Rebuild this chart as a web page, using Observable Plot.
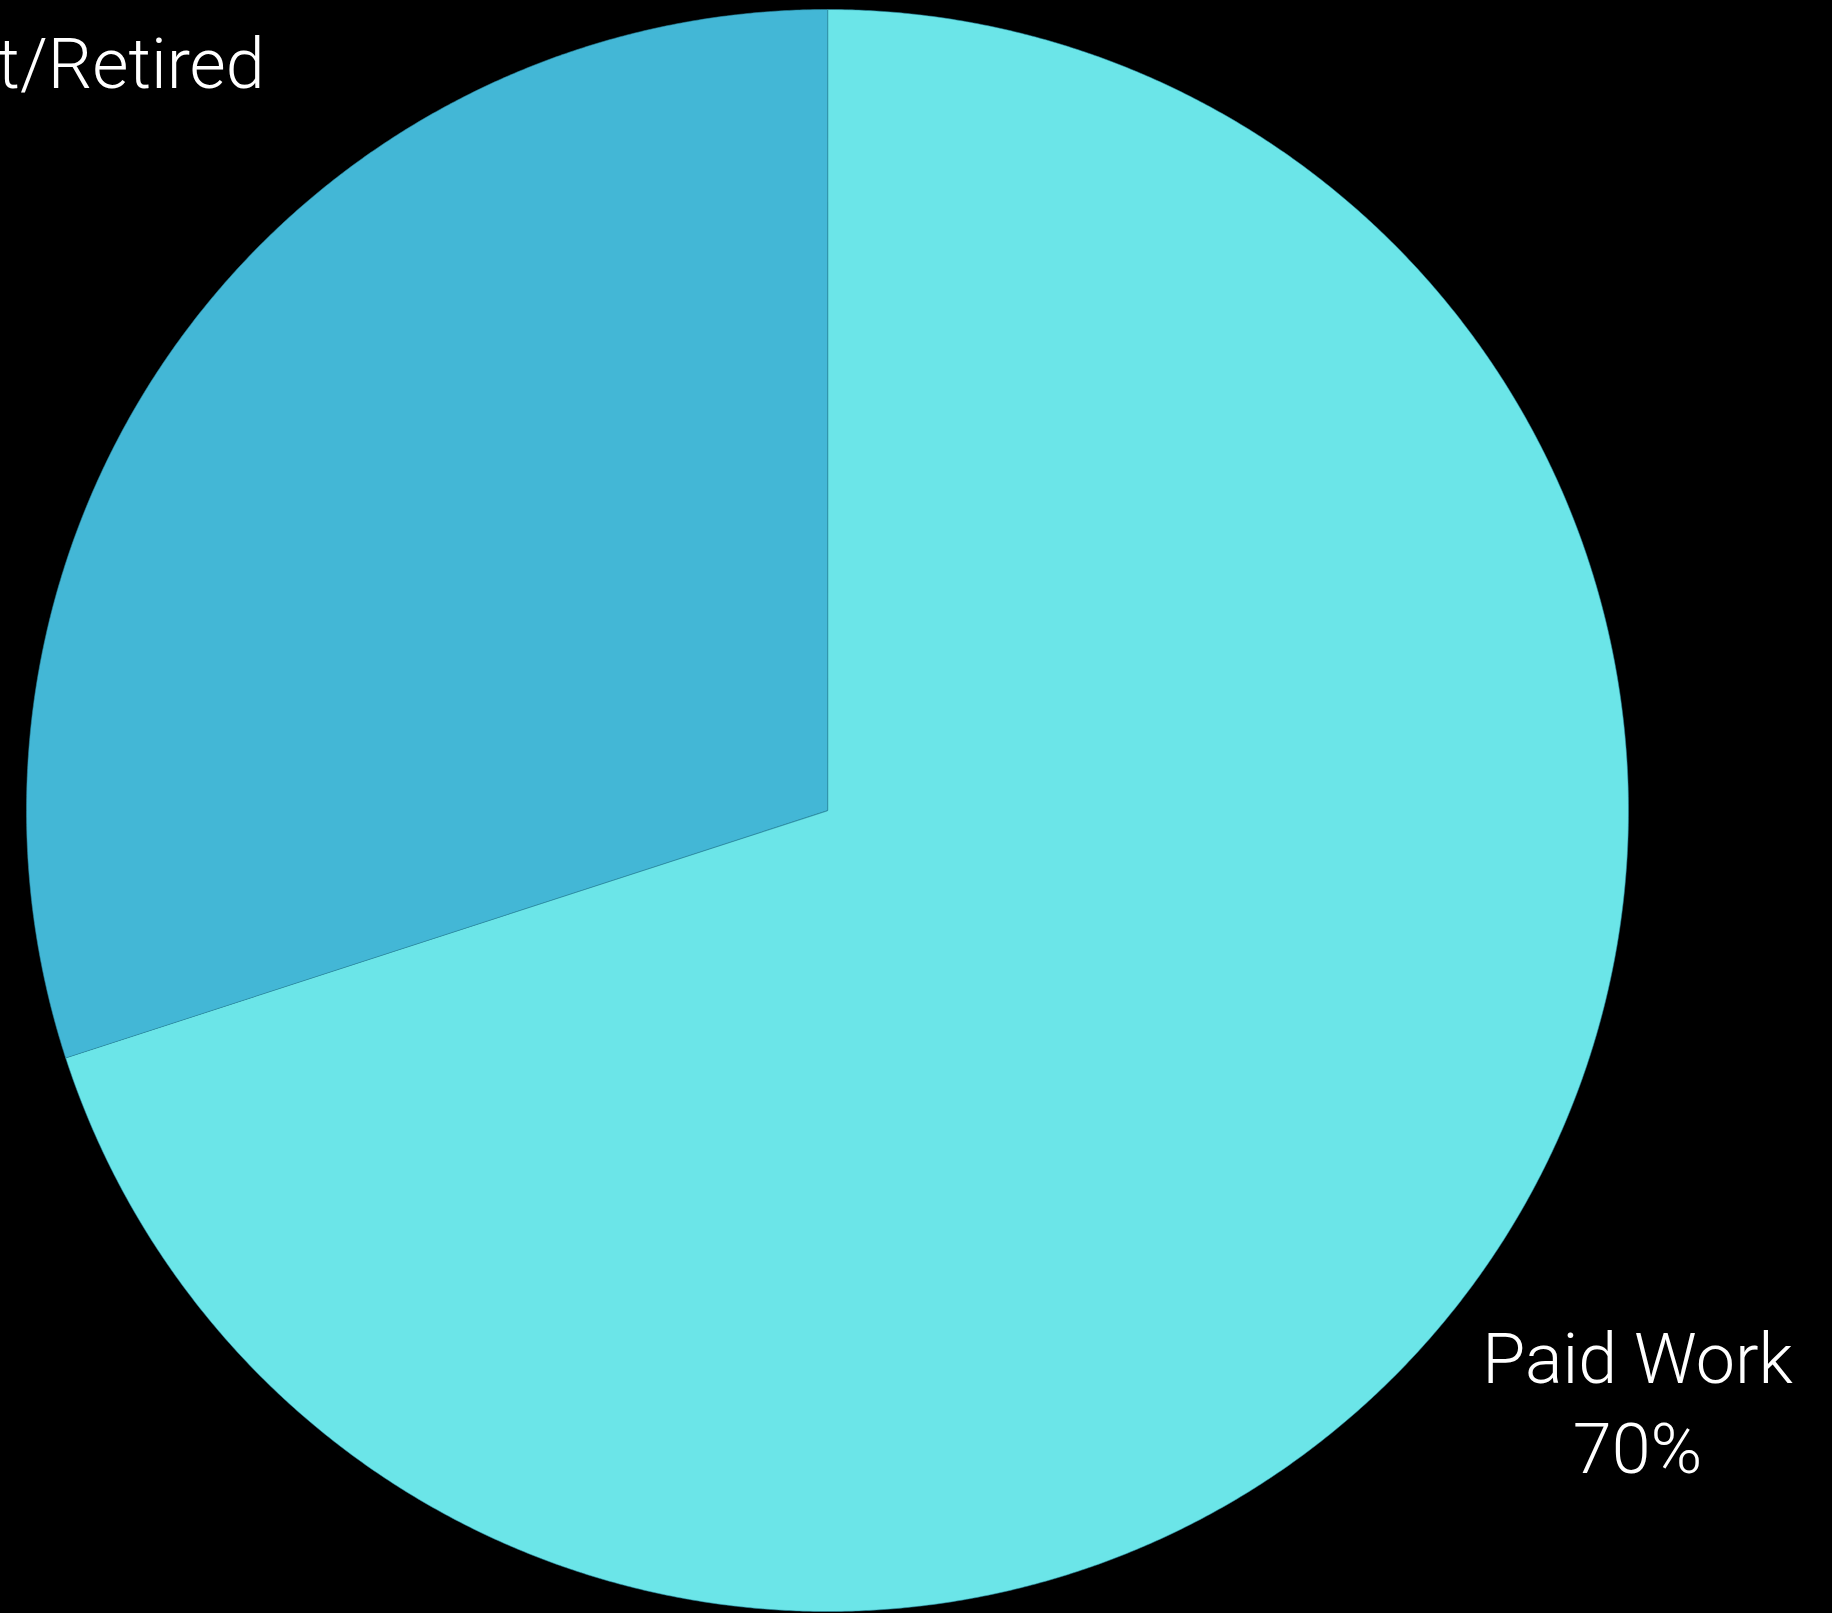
<!DOCTYPE html>
<html>
<head>
<meta charset="utf-8">
<script src="https://cdn.jsdelivr.net/npm/d3@7"></script>
<script src="https://cdn.jsdelivr.net/npm/@observablehq/plot@0.6"></script>
<style>
  html, body { margin: 0; padding: 0; background: #000; overflow: hidden; }
  #chart svg { display: block; background: #000; }
</style>
</head>
<body>
<div id="chart"></div>
<script>
// ---- data ----
const categories = ["Paid Work", "Unemployed/Student/Retired"];
const shares = [70, 30];
const colors = ["#6be5e8", "#43b7d6"];

// ---- layout ----
const W = 1832, H = 1613;
const CX = 827, CY = 810, R = 801;  // pie centre & radius in pixels

const total = d3.sum(shares);
let acc = 0;
const slices = categories.map((name, i) => {
  const a0 = acc / total * 2 * Math.PI;
  acc += shares[i];
  const a1 = acc / total * 2 * Math.PI;
  return {name, value: shares[i], color: colors[i], a0, a1, mid: (a0 + a1) / 2};
});

// polygon outline of each slice (angles clockwise from 12 o'clock, y up)
const outline = [];
for (const s of slices) {
  outline.push({name: s.name, x: 0, y: 0});
  const n = Math.max(2, Math.ceil((s.a1 - s.a0) / (Math.PI / 720)));
  for (let k = 0; k <= n; k++) {
    const a = s.a0 + (s.a1 - s.a0) * k / n;
    outline.push({name: s.name, x: Math.sin(a), y: Math.cos(a)});
  }
}

const labelR = [1.25, 1.55];
const labels = slices.map((s, i) => ({
  name: s.name,
  text: s.name + "\n" + s.value + "%",
  x: Math.sin(s.mid) * labelR[i],
  y: Math.cos(s.mid) * labelR[i]
}));

const font = "Roboto, 'Helvetica Neue', 'Liberation Sans', sans-serif";

const chart = Plot.plot({
  width: W,
  height: H,
  margin: 0,
  style: {background: "#000", overflow: "hidden"},
  x: {domain: [-CX / R, (W - CX) / R], axis: null},
  y: {domain: [-(H - CY) / R, CY / R], axis: null},
  color: {domain: categories, range: colors},
  marks: [
    Plot.line(outline, {
      x: "x", y: "y", z: "name",
      fill: "name",
      stroke: "#2a8aa3",
      strokeWidth: 1,
      strokeOpacity: 0.55,
      curve: "linear-closed"
    }),
    Plot.text(labels.filter(d => d.name === "Paid Work"), {
      x: "x", y: "y", text: "text",
      fill: "#fff", fontSize: 70, fontWeight: 300, fontFamily: font,
      lineHeight: 1.29, textAnchor: "middle", lineAnchor: "middle"
    }),
    Plot.text(labels.filter(d => d.name !== "Paid Work"), {
      x: "x", y: "y", text: "text", dx: -6, dy: 24,
      fill: "#fff", fontSize: 70, fontWeight: 300, fontFamily: font,
      lineHeight: 1.29, textAnchor: "middle", lineAnchor: "middle"
    })
  ]
});

document.getElementById("chart").appendChild(chart);
</script>
</body>
</html>
